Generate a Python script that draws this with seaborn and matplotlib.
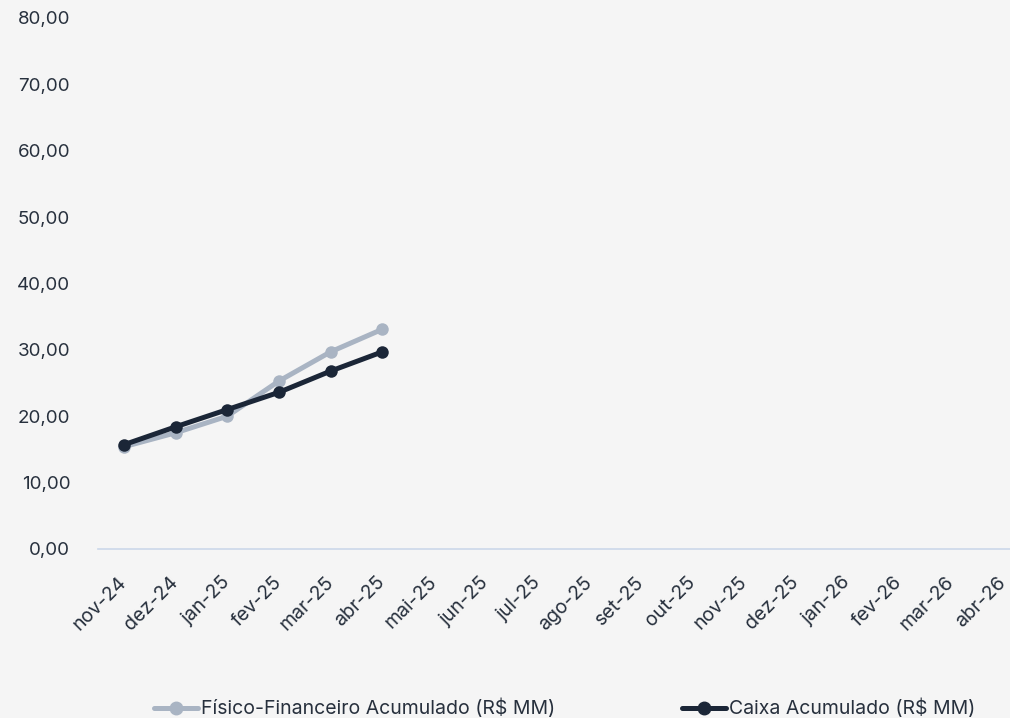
import pandas as pd
import seaborn as sns
import matplotlib.pyplot as plt

# monthly labels, nov-24 .. abr-26
months = ['nov-24', 'dez-24', 'jan-25', 'fev-25', 'mar-25', 'abr-25',
          'mai-25', 'jun-25', 'jul-25', 'ago-25', 'set-25', 'out-25',
          'nov-25', 'dez-25', 'jan-26', 'fev-26', 'mar-26', 'abr-26']

# only the first six months have values
fisico = [15.4, 17.5, 20.0, 25.3, 29.7, 33.1]
caixa = [15.7, 18.4, 21.0, 23.6, 26.8, 29.7]

y_ticks = [0, 10, 20, 30, 40, 50, 60, 70, 80]

BG = '#f5f5f5'
TXT = '#27303d'
LIGHT = '#a9b4c3'
DARK = '#1b2637'

sns.set_style('white')
plt.rcParams['font.family'] = ['Inter', 'DejaVu Sans']

df = pd.DataFrame({
    'mes': months[:len(fisico)] * 2,
    'valor': fisico + caixa,
    'serie': (['Físico-Financeiro Acumulado (R$ MM)'] * len(fisico)
              + ['Caixa Acumulado (R$ MM)'] * len(caixa)),
})
df['pos'] = df['mes'].map({m: i for i, m in enumerate(months)})

fig = plt.figure(figsize=(10.1, 7.18), dpi=100, facecolor=BG)
ax = fig.add_axes([0.097, 0.2354, 0.903, 0.7396])
ax.set_facecolor(BG)

sns.lineplot(data=df, x='pos', y='valor', hue='serie',
             palette=[LIGHT, DARK], marker='o', markersize=9,
             markeredgewidth=0, linewidth=3.6, ax=ax, legend=False)

ax.set_xlim(-0.5, 17.14)
ax.set_ylim(0, 80)
ax.set_xticks(range(len(months)))
# anchor at the right-middle of each label so the last one stays inside
ax.set_xticklabels(months, rotation=45, ha='right', va='center',
                   rotation_mode='anchor', fontsize=14, color=TXT)
ax.set_yticks(y_ticks)
ax.set_yticklabels([f'{v:.2f}'.replace('.', ',') for v in y_ticks],
                   fontsize=13.5, color=TXT)
ax.tick_params(axis='both', length=0)
ax.tick_params(axis='y', pad=20)
ax.tick_params(axis='x', pad=22)
ax.set_xlabel('')
ax.set_ylabel('')
for s in ['top', 'right', 'left']:
    ax.spines[s].set_visible(False)
ax.spines['bottom'].set_color('#cbd8ea')
ax.spines['bottom'].set_linewidth(1.2)

handles = [plt.Line2D([], [], color=LIGHT, lw=3.6, marker='o', markersize=9),
           plt.Line2D([], [], color=DARK, lw=3.6, marker='o', markersize=9)]
fig.legend(handles, ['Físico-Financeiro Acumulado (R$ MM)', 'Caixa Acumulado (R$ MM)'],
           loc='lower center', bbox_to_anchor=(0.559, -0.025), ncol=2,
           frameon=False, fontsize=14, labelcolor=TXT, handlelength=2.3,
           handletextpad=0.15, columnspacing=6.5)

fig.savefig('out.png', dpi=100, facecolor=BG)
